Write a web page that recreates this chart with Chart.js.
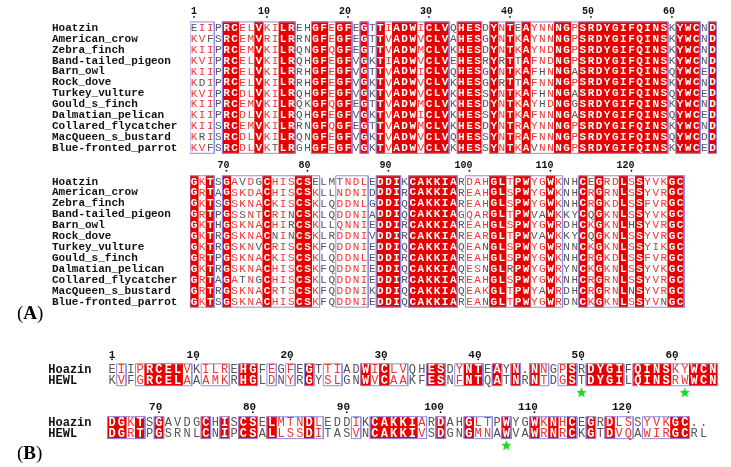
<!DOCTYPE html>
<html>
<head>
<meta charset="utf-8">
<title>Lysozyme alignment</title>
<script src="https://cdn.jsdelivr.net/npm/chart.js@4.4.1/dist/chart.umd.min.js"></script>
<style>
  html, body { margin: 0; padding: 0; background: #fff; }
  #page { position: relative; width: 731px; height: 467px; overflow: hidden; }
  canvas { position: absolute; left: 0; }
  #panelA { top: 0; }
  #panelB { top: 330px; }
</style>
</head>
<body>
<div id="page">
  <canvas id="panelA" width="731" height="330"></canvas>
  <canvas id="panelB" width="731" height="137"></canvas>
</div>
<script>
// Panel A: twelve bird lysozymes
const namesA = ['Hoatzin', 'American_crow', 'Zebra_finch', 'Band-tailed_pigeon', 'Barn_owl', 'Rock_dove',
  'Turkey_vulture', 'Gould_s_finch', 'Dalmatian_pelican', 'Collared_flycatcher', 'MacQueen_s_bustard', 'Blue-fronted_parrot'];

const seqA1 = [
  'EIIPRCELVKILREHGFEGFEGTTIADWICLVQHESDYNTEAYNNNGPSRDYGIFQINSKYWCND',
  'KVFSRCEMVRILRRNGFEGFEGTTVADWVCLVAHESGYNTKAYNNNGPSRDYGIFQINSKYWCND',
  'KIIPRCEMVKILRQNGFQGFEGTTVADWMCLVKHESDYNTKAYNDNGPSRDYGIFQINSKYWCND',
  'KVIPRCELVKILRQHGFEGFVGKTIADWVCLVEHESRYRTTAFNDNGPSRDYGIFQINSKYWCND',
  'KIIPRCELVKILRRHGFEGFVGTTVADWICLVQHESGYNTKAFHNNGASRDYGIFQINSQYWCED',
  'KDIPRCELVKILRRHGFEGFVGKTVADWVCLVKHESGYRTTAFNNNGPSRDYGIFQINSKYWCND',
  'KVIPRCDLVKILRQHGFEGFVGKTVADWVCLVKHESSYNTKAFHNNGASRDYGIFQINSQYWCED',
  'KIIPRCEMVKILRQKGFQGFEGTTVADWMCLVKHESDYNTKAYHDNGGSRDYGIFQINSKYWCND',
  'KIIPRCDLVKILRQHGFEGFVGKTVADWICLVKHESSYNTKAFNNNGASRDYGIFQINSQYWCED',
  'KIISRCEMVKILRRNGFQGFEGTTVADWMCLVKHESDYNTRAYNNNGPSRDYGIFQINSKYWCND',
  'KRISRCDLVKILRQNGFEGFVGKTVADWVCLVQHESSYNTRAFNNNGPSRDYGIFQINSQYWCDD',
  'KVFSRCDLVKTLRGHGFEGFVGKTVADWVCLVKHESSYNTKAVNNNGPSRDYGIFQINSKYWCED'
];

const seqA2 = [
  'GKTSGAVDGCHISCSELMTNDLEDDIKCAKKIARDAHGLTPWYGWKNHCEGRDLSSYVKGC',
  'GRTAGSKDACHISCSKLLNDNIDDDIRCAKKIAREAHGLSPWYGWKNHCRGRNLSSYVRGC',
  'GKTSGSKNACKISCSKLQDDNLGDDIQCAKKIAREAHGLSPWYGWKNHCRGKDLSSFVRGC',
  'GRTPGSSNTCRINCSKLQDDNIADDIQCAKKIAGQARGLTPWVAWKKYCQGKNLSSYVKGC',
  'GKTHGSKNACHIRCSKLLQNNIEDDIRCAKKIAREAHGLSPWYGWRDHCKGKNLHSYVRGC',
  'GKTRGSKNACNINCSKLRDDNIVDDIRCAKKIAREARGLTPWVAWKKYCQGKNLSSYVRGC',
  'GKTRGSKNVCRISCSKFQDDNIEDDIQCAKKIAQEANGLSPWYGWRNNCKGKNLSSYIKGC',
  'GRTPGSKNACKISCSKLQDDNLEDDIRCAKKIAREAHGLSPWYGWKNHCRGKDLSSFVRGC',
  'GKTRGSKNACHISCSKFQDDNIEDDIQCAKKIAQESNGLRPWYGWRYNCKGKNLSSYVKGC',
  'GRTAGATNGCHISCSKLQDDNIEDDIRCAKKIAREAHGLSPWYGWKNHCRGRNLSSYVRGC',
  'GRTRGSKNACRTSCSKFQDDNIKDDIQCAKKIAQEAKGLTPWYAWRDHCRGRNLNSYVRGC',
  'GKTSGSKNACHISCSKFQDDNIEDDIQCAKKIAREANGLTPWYGWRDNCKGKNLSSYVNGC'
];

// framed (similar) column runs, 1-based columns
const framesA1 = [[1, 3], [5, 13], [16, 20], [22, 22], [24, 32], [34, 36], [38, 59], [61, 63], [65, 65]];
const framesA2 = [[1, 3], [5, 16], [19, 22], [24, 26], [28, 33], [35, 46], [49, 61]];

// Panel B: hoatzin vs hen egg-white lysozyme
const namesB = ['Hoazin', 'HEWL'];
const seqB1 = [
  'EIIPRCELVKILREHGFEGFEGTTIADWICLVQHESDYNTEAYN.NNGPSRDYGIFQINSKYWCN',
  'KVFGRCELAAAMKRHGLDNYRGYSLGNWVCAAKFESNFNTQATNRNTDGSTDYGILQINSRWWCN'
];
const seqB2 = [
  'DGKTSGAVDGCHISCSELMTNDLEDDIKCAKKIARDAHGLTPWYGWKNHCEGRDLSSYVKGC..',
  'DGRTPGSRNLCNIPCSALLSSDITASVNCAKKIVSDGNGMNAWVAWRNRCKGTDVQAWIRGCRL'
];
const framesB1 = [[2, 2], [4, 9], [11, 13], [15, 16], [18, 18], [20, 20], [22, 22], [24, 25], [28, 32], [35, 36],
  [38, 40], [42, 42], [44, 44], [46, 47], [49, 50], [52, 55], [57, 65]];
const framesB2 = [[1, 4], [6, 6], [11, 11], [13, 13], [15, 16], [18, 23], [27, 27], [29, 34], [36, 36], [39, 41],
  [43, 43], [46, 50], [52, 52], [54, 56], [58, 62]];
const starsB1 = [51, 62];
const starsB2 = [43];

// residue groups used to decide red vs grey letters in framed columns
const simGroups = ['ILVM', 'FYW', 'KRH', 'DENQ', 'STA', 'G', 'P', 'C'];

const RED = 'rgb(232,0,0)';
const RED_TXT = 'rgb(240,52,52)';
const FRAME = 'rgb(140,140,235)';
const GREY = 'rgb(85,85,85)';
const MONO = "'Liberation Mono', 'DejaVu Sans Mono', monospace";

function groupOf(ch) {
  const g = simGroups.findIndex(s => s.includes(ch));
  return String(g < 0 ? ch : g);
}

function majorGroup(col) {
  const count = {};
  col.forEach(ch => { const g = groupOf(ch); count[g] = (count[g] || 0) + 1; });
  return Object.keys(count).reduce((a, b) => count[b] > count[a] ? b : a);
}

function isConserved(col) {
  return col[0] !== '.' && col.every(ch => ch === col[0]);
}

function residues(seq) {
  return [...seq].filter(ch => ch !== '.').length;
}

// 1, 10, 20 ... numbered on the first sequence
function numbering(seq, startRes) {
  const marks = [];
  let r = startRes - 1;
  [...seq].forEach((ch, i) => {
    if (ch === '.') return;
    r++;
    if (r === 1 || r % 10 === 0) marks.push({ col: i + 1, label: String(r) });
  });
  return marks;
}

// one floating bar per strictly conserved column
function fillBars(b) {
  const out = [];
  const n = b.rows.length;
  for (let c = 0; c < b.rows[0].length; c++) {
    const col = b.rows.map(s => s[c]);
    if (isConserved(col)) out.push({ x: c + 1, y: [b.offset - 0.5, b.offset + n - 0.5] });
  }
  return out;
}

// closed rectangles round each framed run, broken by null points
function framePath(b) {
  const out = [];
  const top = b.offset - 0.5;
  const bot = b.offset + b.rows.length - 0.5;
  b.frames.forEach(([s, e]) => {
    out.push({ x: s - 0.5, y: top }, { x: e + 0.5, y: top }, { x: e + 0.5, y: bot },
      { x: s - 0.5, y: bot }, { x: s - 0.5, y: top }, { x: s - 0.5, y: null });
  });
  return out;
}

function starImage(size, color) {
  const c = document.createElement('canvas');
  c.width = c.height = size;
  const g = c.getContext('2d');
  g.fillStyle = color;
  g.beginPath();
  for (let i = 0; i < 10; i++) {
    const r = i % 2 ? size * 0.22 : size * 0.5;
    const a = -Math.PI / 2 + i * Math.PI / 5;
    g.lineTo(size / 2 + r * Math.cos(a), size / 2 + size * 0.05 + r * Math.sin(a));
  }
  g.closePath();
  g.fill();
  return c;
}

// letters, names, numbering and panel tag
function seqPlugin(p) {
  return {
    id: 'seq',
    afterDatasetsDraw(chart) {
      const { ctx, chartArea, scales: { x, y } } = chart;
      ctx.save();
      ctx.textBaseline = 'middle';
      p.blocks.forEach(b => {
        const n = b.rows.length;
        ctx.font = `bold ${p.nameSize}px ${MONO}`;
        ctx.fillStyle = '#111';
        ctx.textAlign = 'left';
        p.names.forEach((nm, r) => ctx.fillText(nm, chartArea.left - p.nameGap, y.getPixelForValue(b.offset + r) + 0.5));

        ctx.textAlign = 'center';
        for (let c = 0; c < b.rows[0].length; c++) {
          const col = b.rows.map(s => s[c]);
          const same = isConserved(col);
          const framed = b.frames.some(([s, e]) => c + 1 >= s && c + 1 <= e);
          const major = majorGroup(col);
          col.forEach((ch, r) => {
            let color = GREY;
            if (same) color = '#fff';
            else if (framed && ch !== '.' && (n === 2 || groupOf(ch) === major)) color = RED_TXT;
            ctx.font = `${same ? 'bold ' : ''}${p.seqSize}px ${MONO}`;
            ctx.fillStyle = color;
            ctx.fillText(ch, x.getPixelForValue(c + 1), y.getPixelForValue(b.offset + r) + 0.5);
          });
        }

        const top = y.getPixelForValue(b.offset - 0.5);
        ctx.font = `bold ${p.numSize}px ${MONO}`;
        ctx.fillStyle = '#111';
        ctx.textAlign = 'right';
        const dw = ctx.measureText('0').width;
        numbering(b.rows[0], b.start).forEach(m => {
          const px = x.getPixelForValue(m.col);
          ctx.fillText(m.label, px + dw / 2, top - p.numGap);
          ctx.beginPath();
          ctx.arc(px, top - p.dotGap, 0.9, 0, Math.PI * 2);
          ctx.fill();
        });
      });

      // (A) / (B)
      ctx.textAlign = 'left';
      ctx.fillStyle = '#000';
      let tx = p.tagX;
      [['(', ''], [p.tag, 'bold '], [')', '']].forEach(([t, w]) => {
        ctx.font = `${w}19px 'Liberation Serif', serif`;
        ctx.fillText(t, tx, p.tagY);
        tx += ctx.measureText(t).width;
      });
      ctx.restore();
    }
  };
}

function drawPanel(id, p) {
  const canvas = document.getElementById(id);
  const W = canvas.width, H = canvas.height;
  const ncols = Math.max(...p.blocks.map(b => b.rows[0].length));
  const right = W - (p.left + ncols * p.colW);

  const datasets = [
    { type: 'bar', data: p.blocks.flatMap(fillBars), backgroundColor: RED, borderWidth: 0,
      barThickness: p.colW + 0.3, grouped: false, order: 3 },
    { type: 'line', data: p.blocks.flatMap(framePath), borderColor: FRAME, borderWidth: 1,
      pointRadius: 0, fill: false, tension: 0, spanGaps: false, order: 2 }
  ];
  const stars = p.blocks.flatMap(b => (b.stars || []).map(c => ({ x: c, y: b.offset + b.rows.length + 0.1 })));
  if (stars.length) {
    datasets.push({ type: 'scatter', data: stars, pointStyle: starImage(11, 'rgb(30,215,40)'), pointRadius: 5, order: 1 });
  }

  return new Chart(canvas, {
    type: 'bar',
    data: { datasets },
    options: {
      responsive: false,
      animation: false,
      events: [],
      layout: { padding: { left: p.left, right: right, top: 0, bottom: 0 } },
      scales: {
        x: { type: 'linear', min: 0.5, max: ncols + 0.5, offset: false, display: false },
        y: { type: 'linear', min: p.yMin, max: p.yMin + H / p.rowH, reverse: true, beginAtZero: false, display: false }
      },
      plugins: { legend: { display: false }, tooltip: { enabled: false } }
    },
    plugins: [seqPlugin(p)]
  });
}

drawPanel('panelA', {
  blocks: [
    { rows: seqA1, frames: framesA1, offset: 0, start: 1 },
    { rows: seqA2, frames: framesA2, offset: 14.05, start: 1 + residues(seqA1[0]) }
  ],
  names: namesA, tag: 'A', tagX: 17, tagY: 314,
  left: 190, colW: 8.1, rowH: 10.95, yMin: -27.4 / 10.95,
  nameGap: 138, nameSize: 11, seqSize: 11, numSize: 10, numGap: 10, dotGap: 5
});

drawPanel('panelB', {
  blocks: [
    { rows: seqB1, frames: framesB1, offset: 0, start: 1, stars: starsB1 },
    { rows: seqB2, frames: framesB2, offset: 4.83, start: 1 + residues(seqB1[0]), stars: starsB2 }
  ],
  names: namesB, tag: 'B', tagX: 17, tagY: 124,
  left: 107.3, colW: 9.39, rowH: 12, yMin: -36.5 / 12,
  nameGap: 59, nameSize: 12, seqSize: 12, numSize: 11, numGap: 9, dotGap: 4.5
});
</script>
</body>
</html>
